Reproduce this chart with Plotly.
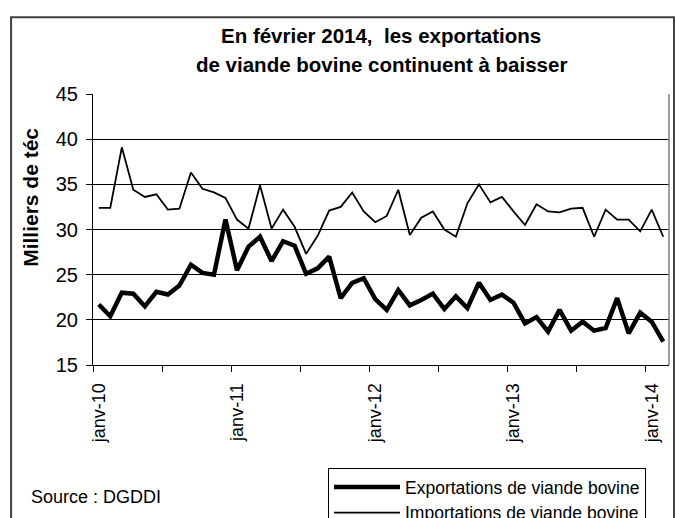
import plotly.graph_objects as go

months_fr = ["janv", "févr", "mars", "avr", "mai", "juin", "juil", "août", "sept", "oct", "nov", "déc"]
years = ["10", "11", "12", "13", "14"]
categories = [f"{m}-{y}" for y in years for m in months_fr][:50]

exportations = [21.7, 20.4, 23.0, 22.9, 21.5, 23.1, 22.8, 23.8, 26.1, 25.2,
                25.0, 31.1, 25.5, 28.1, 29.2, 26.5, 28.7, 28.2, 25.1, 25.7,
                27.0, 22.4, 24.1, 24.6, 22.3, 21.1, 23.3, 21.6, 22.2, 22.9,
                21.2, 22.6, 21.3, 24.1, 22.2, 22.8, 21.9, 19.6, 20.3, 18.7,
                21.1, 18.8, 19.8, 18.8, 19.1, 22.4, 18.5, 20.8, 19.8, 17.6]
importations = [32.4, 32.4, 39.1, 34.4, 33.6, 33.9, 32.2, 32.3, 36.3, 34.5,
                34.1, 33.5, 31.1, 30.1, 34.9, 30.1, 32.2, 30.3, 27.3, 29.3,
                32.1, 32.5, 34.1, 32.0, 30.8, 31.5, 34.4, 29.4, 31.3, 32.0,
                30.0, 29.2, 32.9, 35.0, 33.0, 33.6, 32.0, 30.5, 32.8, 32.0,
                31.9, 32.3, 32.4, 29.2, 32.2, 31.1, 31.1, 29.8, 32.2, 29.2]

tick_idx = [i for i, c in enumerate(categories) if c.startswith("janv")]
tick_text = [categories[i] for i in tick_idx]
x = list(range(len(categories)))

FONT = "Liberation Sans, Arial, sans-serif"
L, R, T, B = 92.5, 6, 93.7, 153.3
PW, PH = 675 - L - R, 518 - T - B


def px_x(v):
    return (v - L) / PW


def px_y(v):
    return (518 - B - v) / PH


fig = go.Figure()
fig.add_trace(go.Scatter(x=x, y=exportations, mode="lines", name="Exportations de viande bovine",
                         line=dict(color="black", width=4.5), customdata=categories))
fig.add_trace(go.Scatter(x=x, y=importations, mode="lines", name="Importations de viande bovine",
                         line=dict(color="black", width=1.8), customdata=categories))

fig.update_layout(
    template="none",
    width=675, height=518,
    margin=dict(l=L, r=R, t=T, b=B, autoexpand=False),
    paper_bgcolor="white", plot_bgcolor="white",
    font=dict(family=FONT, color="black", size=19),
    showlegend=True,
    legend=dict(xref="container", yref="container", x=328 / 675, y=1 - 468 / 518,
                xanchor="left", yanchor="top",
                bordercolor="black", borderwidth=1, bgcolor="white",
                font=dict(size=17.5, family=FONT), itemwidth=66,
                tracegroupgap=0),
    xaxis=dict(range=[-0.5, len(categories) - 0.5], tickmode="array",
               tickvals=tick_idx, ticktext=tick_text, tickangle=-90,
               ticks="", showgrid=False, zeroline=False, automargin=False,
               showline=True, linecolor="black", linewidth=1,
               ticklabelstandoff=10,
               tickfont=dict(size=18, family=FONT),
               minor=dict(tickmode="array",
                          tickvals=[i - 0.5 for i in range(0, len(categories) + 1, 6)],
                          ticks="outside", ticklen=6, tickcolor="black", tickwidth=1,
                          showgrid=False)),
    yaxis=dict(range=[15, 45], dtick=5, tick0=15, showgrid=True, gridcolor="black",
               gridwidth=1, zeroline=False, showline=True, linecolor="black",
               linewidth=1, ticks="outside", ticklen=6, tickcolor="black", automargin=False,
               tickfont=dict(size=20, family=FONT), ticklabelstandoff=4),
    shapes=[
        dict(type="line", xref="paper", yref="paper", x0=1, x1=1, y0=0, y1=1,
             line=dict(color="#808080", width=1.5)),
        dict(type="rect", xref="paper", yref="paper", x0=px_x(10.5), x1=px_x(674),
             y0=px_y(540), y1=px_y(17), line=dict(color="#404040", width=2),
             fillcolor="rgba(0,0,0,0)", layer="below"),
    ],
    annotations=[
        dict(text="<b>En février 2014,\u00a0 les exportations</b>", xref="paper", yref="paper",
             x=0.5, y=px_y(35), xanchor="center", yanchor="middle",
             showarrow=False, font=dict(size=20.5, family=FONT)),
        dict(text="<b>de viande bovine continuent à baisser</b>", xref="paper", yref="paper",
             x=0.5, y=px_y(64), xanchor="center", yanchor="middle",
             showarrow=False, font=dict(size=20.5, family=FONT)),
        dict(text="<b>Milliers de téc</b>", xref="paper", yref="paper",
             x=px_x(30), y=px_y(197), xanchor="center", yanchor="middle",
             textangle=-90, showarrow=False, font=dict(size=21, family=FONT)),
        dict(text="Source : DGDDI", xref="paper", yref="paper",
             x=px_x(28), y=px_y(497), xanchor="left", yanchor="middle",
             showarrow=False, font=dict(size=18, family=FONT)),
    ],
)

fig.write_html("out.html", config={"displayModeBar": False},
               post_script="document.body.style.margin='0';document.body.style.padding='0';")
